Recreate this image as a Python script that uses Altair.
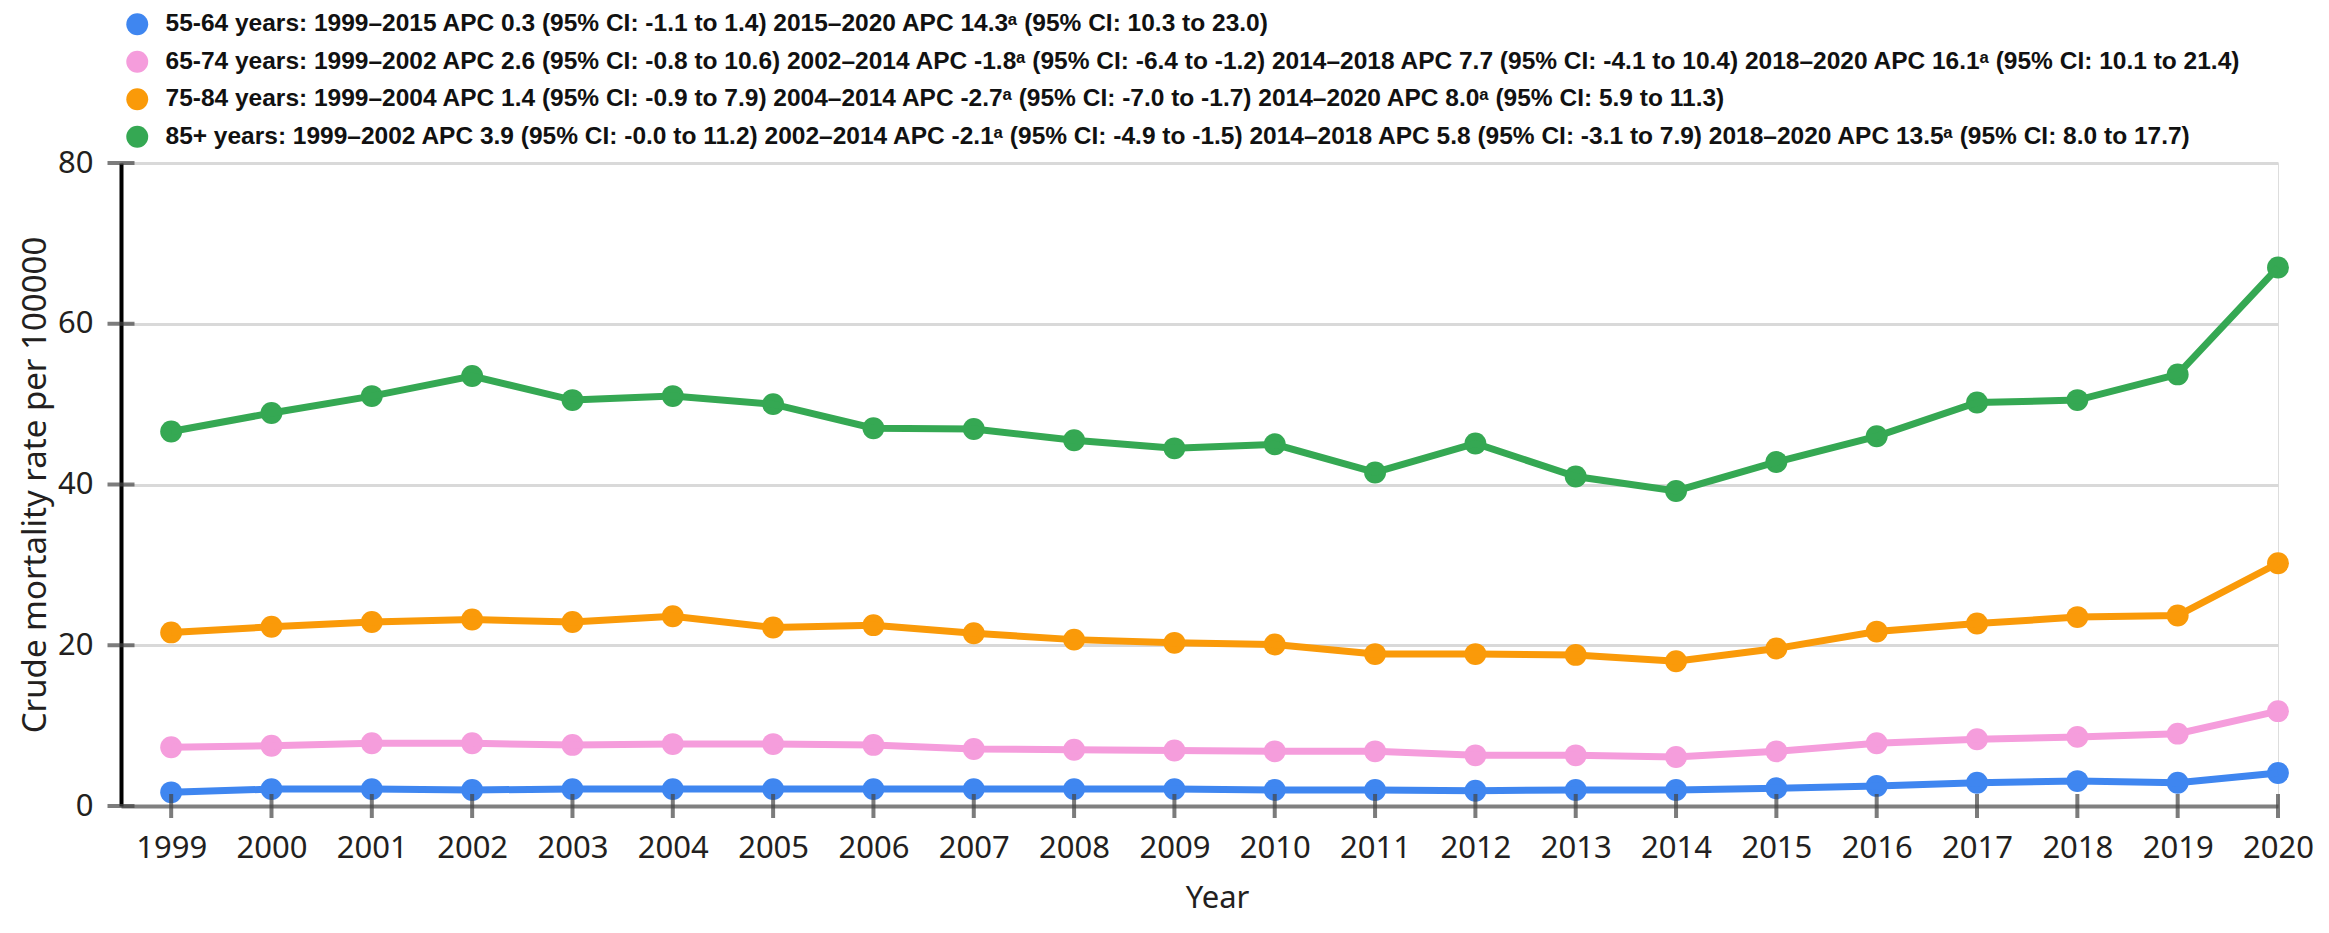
import altair as alt
import pandas as pd

years = list(range(1999, 2021))
s_55 = [1.7, 2.1, 2.1, 2.0, 2.1, 2.1, 2.1, 2.1, 2.1, 2.1, 2.1, 2.0, 2.0, 1.9, 2.0, 2.0, 2.2, 2.5, 2.9, 3.1, 2.9, 4.1]
s_65 = [7.3, 7.5, 7.8, 7.8, 7.6, 7.7, 7.7, 7.6, 7.1, 7.0, 6.9, 6.8, 6.8, 6.3, 6.3, 6.1, 6.8, 7.8, 8.3, 8.6, 9.0, 11.8]
s_75 = [21.6, 22.3, 22.9, 23.2, 22.9, 23.6, 22.2, 22.5, 21.5, 20.7, 20.3, 20.1, 18.9, 18.9, 18.8, 18.0, 19.6, 21.7, 22.7, 23.5, 23.7, 30.2]
s_85 = [46.6, 48.9, 51.0, 53.5, 50.5, 51.0, 50.0, 47.0, 46.9, 45.5, 44.5, 45.0, 41.5, 45.1, 41.0, 39.2, 42.8, 46.0, 50.2, 50.5, 53.7, 67.0]

labels = [
    "55-64 years: 1999\u20132015 APC 0.3 (95% CI: -1.1 to 1.4) 2015\u20132020 APC 14.3\u1d43 (95% CI: 10.3 to 23.0)",
    "65-74 years: 1999\u20132002 APC 2.6 (95% CI: -0.8 to 10.6) 2002\u20132014 APC -1.8\u1d43 (95% CI: -6.4 to -1.2) 2014\u20132018 APC 7.7 (95% CI: -4.1 to 10.4) 2018\u20132020 APC 16.1\u1d43 (95% CI: 10.1 to 21.4)",
    "75-84 years: 1999\u20132004 APC 1.4 (95% CI: -0.9 to 7.9) 2004\u20132014 APC -2.7\u1d43 (95% CI: -7.0 to -1.7) 2014\u20132020 APC 8.0\u1d43 (95% CI: 5.9 to 11.3)",
    "85+ years: 1999\u20132002 APC 3.9 (95% CI: -0.0 to 11.2) 2002\u20132014 APC -2.1\u1d43 (95% CI: -4.9 to -1.5) 2014\u20132018 APC 5.8 (95% CI: -3.1 to 7.9) 2018\u20132020 APC 13.5\u1d43 (95% CI: 8.0 to 17.7)",
]
colors = ["#3f86f0", "#f59ddc", "#fa9a09", "#35a853"]
y_ticks = [0, 20, 40, 60, 80]

rows = []
for lab, vals in zip(labels, [s_55, s_65, s_75, s_85]):
    for yr, v in zip(years, vals):
        rows.append({"Year": yr, "Rate": v, "Group": lab})
df = pd.DataFrame(rows)

W, H = 2157, 643

xscale = alt.Scale(domain=[1998.5, 2020], nice=False, zero=False)
yscale = alt.Scale(domain=[0, 80], nice=False)

color = alt.Color(
    "Group:N",
    scale=alt.Scale(domain=labels, range=colors),
    sort=labels,
    legend=alt.Legend(
        title=None,
        orient="none",
        legendX=4,
        legendY=-151,
        direction="vertical",
        symbolType="circle",
        symbolSize=480,
        symbolStrokeWidth=0,
        symbolOpacity=1,
        labelFont="Liberation Sans",
        labelFontWeight="bold",
        labelFontSize=24.5,
        labelColor="#111111",
        labelLimit=0,
        labelOffset=16,
        rowPadding=12.5,
    ),
)

x_enc = alt.X(
    "Year:Q",
    scale=xscale,
    axis=alt.Axis(
        values=years,
        format="d",
        ticks=False,
        grid=False,
        domainColor="#808080",
        domainWidth=4,
        labelFont="Noto Sans",
        labelFontSize=31,
        labelColor="#231f20",
        labelPadding=27,
        labelFlush=False,
        title="Year",
        titleFont="Noto Sans",
        titleFontSize=31,
        titleFontWeight="normal",
        titleColor="#231f20",
        titleX=1096,
        titleY=92,
        titleBaseline="middle",
        titleAlign="center",
    ),
)

y_enc = alt.Y(
    "Rate:Q",
    scale=yscale,
    axis=alt.Axis(
        values=y_ticks,
        ticks=False,
        grid=True,
        gridColor="#d9d9d9",
        gridWidth=3,
        domainColor="#000000",
        domainWidth=4,
        labelFont="Noto Sans",
        labelFontSize=31,
        labelColor="#231f20",
        labelPadding=28,
        title="Crude mortality rate per 100000",
        titleFont="Noto Sans",
        titleFontSize=33,
        titleFontWeight="normal",
        titleColor="#231f20",
        titlePadding=5,
    ),
)

base = alt.Chart(df)
points = base.mark_point(filled=True, size=480, opacity=1).encode(x=x_enc, y=y_enc, color=color)
lines = base.mark_line(strokeWidth=7).encode(x="Year:Q", y="Rate:Q", color=alt.Color("Group:N", legend=None))

xt = alt.Chart(pd.DataFrame({"Year": years})).mark_tick(
    color="#444444", thickness=4, size=24
).encode(x=alt.X("Year:Q"), y=alt.value(H))

yt = alt.Chart(pd.DataFrame({"Rate": y_ticks})).mark_tick(
    color="#444444", thickness=4, size=27
).encode(y=alt.Y("Rate:Q"), x=alt.value(0))

chart = alt.layer(points, lines, xt, yt).properties(
    width=W,
    height=H,
    autosize=alt.AutoSizeParams(type="none"),
    padding={"left": 113, "top": 155, "right": 43, "bottom": 120},
).configure_view(stroke=None).configure(background="white")

chart.save("out.html", embed_options={"renderer": "svg", "actions": False})
